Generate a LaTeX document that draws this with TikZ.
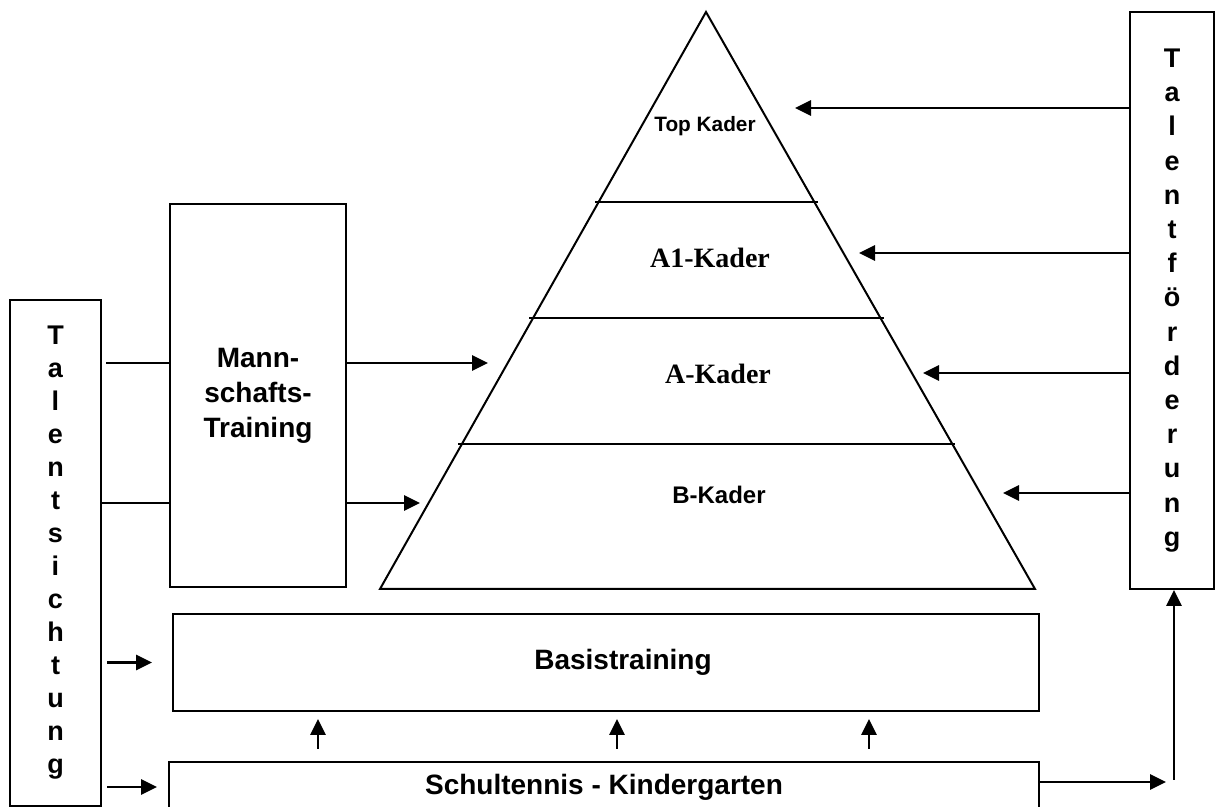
\documentclass[tikz,border=0pt]{standalone}
\usepackage{fontspec}
\setmainfont{Liberation Serif}
\setsansfont{Liberation Sans}
\usetikzlibrary{arrows.meta}

\begin{document}
\begin{tikzpicture}[x=0.5pt,y=-0.5pt,
        box/.style={draw,line width=1pt,inner sep=0pt,align=center,
            font=\sffamily\bfseries\fontsize{14}{17.5}\selectfont},
        letters/.style={font=\sffamily\bfseries\fontsize{13.5}{#1}\selectfont},
        serif/.style={font=\rmfamily\bfseries\fontsize{14}{17}\selectfont},
        arr/.style={line width=1.4pt,-{Triangle[length=8pt,width=7.5pt]}}]

\useasboundingbox (0,0) rectangle (1217,807);

% Pyramide
\coordinate (apex) at (706,12);
\coordinate (bl) at (380,589);
\coordinate (br) at (1035,589);
\draw[line width=1pt] (apex) -- (bl) -- (br) -- cycle;
\draw[line width=1pt] (595,202) -- (818,202);
\draw[line width=1pt] (529,318) -- (884,318);
\draw[line width=1pt] (458,444) -- (955,444);

\node (top) at (705,126) [font=\sffamily\bfseries\fontsize{10.4}{12}\selectfont] {Top Kader};
\node (a1) at (710,258) [serif] {A1-Kader};
\node (a) at (718,374) [serif] {A-Kader};
\node (b) at (719,495) [font=\sffamily\bfseries\fontsize{12}{14}\selectfont] {B-Kader};

% Kaesten
\node (ts) [box, letters=16.5, minimum width=45.5pt, minimum height=253pt] at (55.5,553)
    {T\\a\\l\\e\\n\\t\\s\\i\\c\\h\\t\\u\\n\\g};
\node (tf) [box, letters=17.1, minimum width=42pt, minimum height=288.5pt] at (1172,300.5)
    {T\\a\\l\\e\\n\\t\\f\\ö\\r\\d\\e\\r\\u\\n\\g};
\node (mt) [box, minimum width=88pt, minimum height=191.5pt] at (258,395.5)
    {Mann-\\schafts-\\Training};
\node (bt) [box, minimum width=433pt, minimum height=48.5pt] at (606,662.5)
    {\hspace*{17pt}Basistraining};
\node (sk) [box, minimum width=435pt, minimum height=25pt] at (604,787)
    {Schultennis - Kindergarten};

% Talentsichtung
\coordinate (pA) at (488,363);
\coordinate (pB) at (420,503);
\draw[line width=1pt] ([xshift=2pt]ts.east |- pA) -- (mt.west |- pA);
\draw[arr] (mt.east |- pA) -- (pA);
\draw[line width=1pt] (ts.east |- pB) -- (mt.west |- pB);
\draw[arr] (mt.east |- pB) -- (pB);
\draw[arr] ([xshift=2.5pt]ts.east |- bt.west) -- ([xshift=-10pt]bt.west);
\draw[arr] ([xshift=2.5pt]ts.east |- sk.west) -- ([xshift=-5.5pt]sk.west);

% Talentfoerderung
\coordinate (k1) at (795,108);
\coordinate (k2) at (859,253);
\coordinate (k3) at (923,373);
\coordinate (k4) at (1003,493);
\foreach \k in {k1,k2,k3,k4}
    \draw[arr] (tf.west |- \k) -- (\k);

\foreach \x in {318,617,869}
    \draw[arr] ([yshift=6pt]sk.north -| \x,0) -- ([yshift=-3.5pt]bt.south -| \x,0);

\coordinate (corner) at (1174,782);
\draw[arr] (sk.east |- corner) -- ([xshift=-4pt]corner);
\draw[arr] ([yshift=1pt]corner) -- (tf.south -| corner);
\end{tikzpicture}
\end{document}
